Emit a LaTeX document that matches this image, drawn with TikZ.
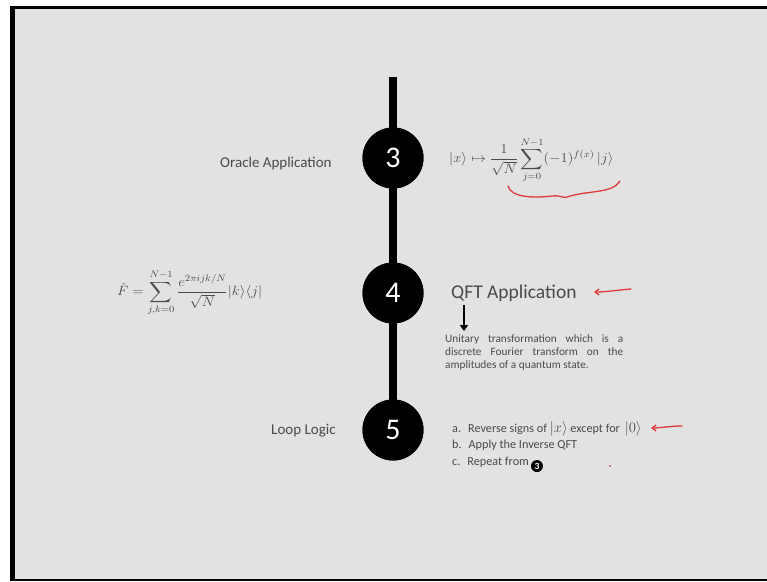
\RequirePackage{fix-cm}
\documentclass[tikz,border=0pt]{standalone}
\usepackage{fontspec}
\setmainfont{Carlito}
\usepackage{amsmath}
\usetikzlibrary{arrows.meta}
\definecolor{slide}{HTML}{E2E2E2}
\definecolor{ink}{HTML}{4A4A4A}
\definecolor{pen}{HTML}{E03A3A}
\tikzset{
  x=1pt, y=-1pt,
  stepdot/.style={circle, fill=black, minimum size=61pt, inner sep=0pt,
    text=white, font=\fontsize{30}{30}\selectfont},
  steplabel/.style={text=ink, font=\fontsize{15}{18}\selectfont, inner sep=0pt},
  mathtext/.style={text=ink, font=\fontsize{13.5}{16}\selectfont, inner sep=0pt},
  listtext/.style={text=ink, font=\fontsize{12.2}{16.5}\selectfont, inner sep=0pt, align=left},
  penstroke/.style={pen, line width=1.3pt, line cap=round, line join=round},
  spine/.style={line width=8pt, black}
}
\newcommand{\smallstep}[1]{\tikz[baseline=-0.6ex]\node[circle, fill=black, inner sep=0pt, minimum size=12pt, text=white, font=\fontsize{9.5}{9.5}\selectfont\bfseries]{#1};}
\newcommand{\wide}[1]{\scalebox{1.09}[1]{#1}}
\newcommand{\ket}[1]{\scalebox{1.2}{$|#1\rangle$}}
\begin{document}
\begin{tikzpicture}
  % page and slide frame
  \useasboundingbox (0,0) rectangle (767,581);
  \fill[white] (0,0) rectangle (770,581);
  \fill[slide] (15,8.5) rectangle (770,578.5);
  \fill[black] (10,6) rectangle (15,581);
  \fill[black] (10,6) rectangle (770,8.5);
  \fill[black] (10,578.5) rectangle (770,581);

  % timeline spine and step markers
  \coordinate (top) at (393,77);
  \node[stepdot] (s3) at (393,158) {3};
  \node[stepdot] (s4) at (393,293) {4};
  \node[stepdot] (s5) at (393,430) {5};
  \draw[spine] (top) -- (s3.center) -- (s4.center) -- (s5.center);
  \node[stepdot] at (s3) {3};
  \node[stepdot] at (s4) {4};
  \node[stepdot] at (s5) {5};

  % step 3
  \node[steplabel, anchor=west] (oracle) at (220,163) {Oracle Application};
  \node[mathtext, anchor=west] (oraclemath) at (449,160)
    {\wide{$\displaystyle |x\rangle \mapsto \frac{1}{\sqrt{N}}\sum_{j=0}^{N-1}(-1)^{f(x)}\,|j\rangle$}};
  \coordinate (b1) at (508,186);
  \coordinate (b2) at (567,197);
  \coordinate (b3) at (620,181);
  \draw[penstroke] (b1) .. controls (511,198) and (535,198) .. (552,196)
    .. controls (562,195) and (565,199) .. (b2)
    .. controls (588,190) and (612,194) .. (b3);

  % step 4
  \node[mathtext, anchor=west] (qftmath) at (117,293)
    {\wide{$\displaystyle \hat{F} = \sum_{j,k=0}^{N-1}\frac{e^{2\pi i jk/N}}{\sqrt{N}}|k\rangle\langle j|$}};
  \node[text=ink, font=\fontsize{19.5}{22}\selectfont, inner sep=0pt, anchor=west] (qft) at (451,293) {QFT Application};
  \coordinate (qa1) at (631,289);
  \coordinate (qa2) at (594,292);
  \draw[penstroke, -{Straight Barb[length=4pt,width=6pt]}] (qa1) .. controls (618,290) and (606,292) .. (qa2);
  \coordinate (da1) at (464,305);
  \coordinate (da2) at (464,331);
  \draw[line width=2.6pt, black, -{Triangle[length=6pt,width=8pt]}] (da1) -- (da2);
  \node[text=ink, font=\fontsize{11.3}{13}\selectfont, inner sep=0pt, anchor=north west,
        text width=178pt, align=justify] (qftdesc) at (445,334)
    {\hyphenpenalty=10000 Unitary transformation which is a\linebreak discrete Fourier transform on the\linebreak amplitudes of a quantum state.};

  % step 5
  \node[steplabel, anchor=west] (loop) at (271,431) {Loop Logic};
  \node[listtext, anchor=north west] (list) at (452,421)
    {a.\hspace{7pt}Reverse signs of \ket{x} except for\, \ket{0}\\
     b.\hspace{7pt}Apply the Inverse QFT\\
     c.\hspace{7pt}Repeat from\,\smallstep{3}};
  \coordinate (la1) at (682,426);
  \coordinate (la2) at (651,428);
  \draw[penstroke, -{Straight Barb[length=4pt,width=6pt]}] (la1) .. controls (670,426) and (660,428) .. (la2);
  \fill[pen] (610,466) circle (1pt);
\end{tikzpicture}
\end{document}
